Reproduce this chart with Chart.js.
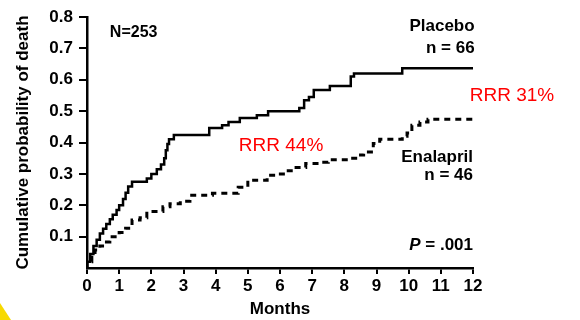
<!DOCTYPE html>
<html>
<head>
<meta charset="utf-8">
<script src="https://cdn.jsdelivr.net/npm/chart.js@4.4.1/dist/chart.umd.min.js"></script>
<style>
    html, body { margin: 0; padding: 0; background: #fff; }
    #wrap { width: 580px; height: 320px; position: relative; }
</style>
</head>
<body>
<div id="wrap"><canvas id="myChart" width="580" height="320"></canvas></div>
<script>
// Kaplan-Meier style cumulative probability of death
var placeboMonths = [0, 0.1, 0.2, 0.3, 0.4, 0.5, 0.6, 0.71, 0.8, 0.92, 1.0, 1.12, 1.2, 1.28, 1.4, 1.86, 2.0, 2.17, 2.3, 2.4, 2.45, 2.5, 2.55, 2.7, 3.8, 4.2, 4.4, 4.75, 5.28, 5.63, 6.6, 6.75, 6.9, 7.05, 7.55, 8.2, 8.3, 9.8, 10.6, 12];
var placeboProb   = [0, 0.02, 0.045, 0.07, 0.09, 0.11, 0.125, 0.14, 0.155, 0.17, 0.185, 0.20, 0.22, 0.24, 0.26, 0.275, 0.285, 0.30, 0.315, 0.33, 0.35, 0.375, 0.395, 0.41, 0.424, 0.446, 0.455, 0.465, 0.478, 0.487, 0.50, 0.51, 0.535, 0.545, 0.567, 0.58, 0.61, 0.62, 0.637, 0.637];

var enalaprilMonths = [0, 0.15, 0.25, 0.4, 0.55, 0.71, 1.0, 1.2, 1.4, 1.65, 1.86, 2.36, 2.58, 2.9, 3.2, 3.9, 4.7, 5.0, 5.6, 5.85, 6.2, 6.5, 6.8, 7.2, 7.5, 8.2, 8.4, 8.6, 8.9, 9.1, 9.8, 9.95, 10.1, 10.35, 10.6, 10.75, 12];
var enalaprilProb   = [0, 0.02, 0.04, 0.057, 0.07, 0.083, 0.10, 0.113, 0.127, 0.153, 0.16, 0.18, 0.195, 0.205, 0.213, 0.232, 0.238, 0.257, 0.28, 0.296, 0.30, 0.31, 0.32, 0.333, 0.337, 0.345, 0.35, 0.36, 0.37, 0.397, 0.41, 0.42, 0.43, 0.455, 0.465, 0.474, 0.474];

var xTicks = [0, 1, 2, 3, 4, 5, 6, 7, 8, 9, 10, 11, 12];
var yTicks = [0.1, 0.2, 0.3, 0.4, 0.5, 0.6, 0.7, 0.8];

function toPoints(xs, ys) {
    var pts = [];
    for (var i = 0; i < xs.length; i++) pts.push({x: xs[i], y: ys[i]});
    return pts;
}

// free text on the plot, placed in data units
var notes = [
    {text: 'N=253',     x: 0.71,  y: 0.75,  align: 'left',  color: '#000', font: 'bold 16px "Liberation Sans", Arial'},
    {text: 'Placebo',   x: 12.05, y: 0.77,  align: 'right', color: '#000', font: 'bold 17px "Liberation Sans", Arial'},
    {text: 'n = 66',    x: 12.05, y: 0.70,  align: 'right', color: '#000', font: 'bold 17px "Liberation Sans", Arial'},
    {text: 'Enalapril', x: 12.0,  y: 0.353, align: 'right', color: '#000', font: 'bold 17px "Liberation Sans", Arial'},
    {text: 'n = 46',    x: 12.0,  y: 0.296, align: 'right', color: '#000', font: 'bold 17px "Liberation Sans", Arial'},
    {text: 'RRR 44%',   x: 4.72,  y: 0.39,  align: 'left',  color: '#ff0000', font: '19px "Liberation Sans", Arial'},
    {text: 'RRR 31%',   x: 11.9,  y: 0.55,  align: 'left',  color: '#ff0000', font: '19px "Liberation Sans", Arial'}
];

var notesPlugin = {
    id: 'notes',
    afterDraw: function(chart) {
        var ctx = chart.ctx;
        var xs = chart.scales.x, ys = chart.scales.y;
        ctx.save();
        ctx.textBaseline = 'middle';
        notes.forEach(function(n) {
            ctx.font = n.font;
            ctx.fillStyle = n.color;
            ctx.textAlign = n.align;
            ctx.fillText(n.text, xs.getPixelForValue(n.x), ys.getPixelForValue(n.y));
        });
        // P = .001 with italic P
        var px = xs.getPixelForValue(12.0), py = ys.getPixelForValue(0.073);
        ctx.textAlign = 'right';
        ctx.fillStyle = '#000';
        ctx.font = 'bold 17px "Liberation Sans", Arial';
        var rest = ' = .001';
        ctx.fillText(rest, px, py);
        var w = ctx.measureText(rest).width;
        ctx.font = 'italic bold 17px "Liberation Sans", Arial';
        ctx.fillText('P', px - w, py);
        // yellow corner
        ctx.fillStyle = '#f7d900';
        ctx.beginPath();
        ctx.moveTo(0, 303);
        ctx.lineTo(11, 320);
        ctx.lineTo(0, 320);
        ctx.closePath();
        ctx.fill();
        ctx.restore();
    }
};

function createChart() {
    var ctx = document.getElementById('myChart').getContext('2d');
    var chartData = {
        datasets: [{
            label: 'Placebo',
            data: toPoints(placeboMonths, placeboProb),
            stepped: 'after',
            borderColor: '#000',
            borderWidth: 2.5,
            pointRadius: 0,
            fill: false
        }, {
            label: 'Enalapril',
            data: toPoints(enalaprilMonths, enalaprilProb),
            stepped: 'after',
            borderColor: '#000',
            borderWidth: 3,
            borderDash: [6, 5],
            pointRadius: 0,
            fill: false
        }]
    };

    var options = {
        responsive: false,
        animation: false,
        layout: { padding: { left: 13, right: 107, top: 17, bottom: 0 } },
        plugins: {
            legend: { display: false },
            tooltip: { enabled: false }
        },
        scales: {
            x: {
                type: 'linear',
                min: 0,
                max: 12,
                afterFit: function(s) { s.height = 52; },
                afterBuildTicks: function(s) { s.ticks = xTicks.map(function(v) { return {value: v}; }); },
                border: { color: '#000', width: 2.5 },
                grid: { drawOnChartArea: false, drawTicks: true, tickLength: 6, color: '#000', lineWidth: 2 },
                ticks: { color: '#000', padding: 2, maxRotation: 0, font: { family: '"Liberation Sans", Arial', size: 17, weight: 'bold' } },
                title: { display: true, text: 'Months', color: '#000', padding: 0, font: { family: '"Liberation Sans", Arial', size: 17, weight: 'bold' } }
            },
            y: {
                min: 0,
                max: 0.8,
                afterFit: function(s) { s.width = 74; },
                afterBuildTicks: function(s) { s.ticks = yTicks.map(function(v) { return {value: v}; }); },
                border: { color: '#000', width: 2.5 },
                grid: { drawOnChartArea: false, drawTicks: true, tickLength: 8, color: '#000', lineWidth: 2 },
                ticks: {
                    color: '#000',
                    padding: 6,
                    font: { family: '"Liberation Sans", Arial', size: 17, weight: 'bold' },
                    callback: function(v) { return v.toFixed(1); }
                },
                title: { display: true, text: 'Cumulative probability of death', color: '#000', padding: 0, font: { family: '"Liberation Sans", Arial', size: 17, weight: 'bold' } }
            }
        }
    };

    new Chart(ctx, {
        type: 'line',
        data: chartData,
        options: options,
        plugins: [notesPlugin]
    });
}

createChart();
</script>
</body>
</html>
